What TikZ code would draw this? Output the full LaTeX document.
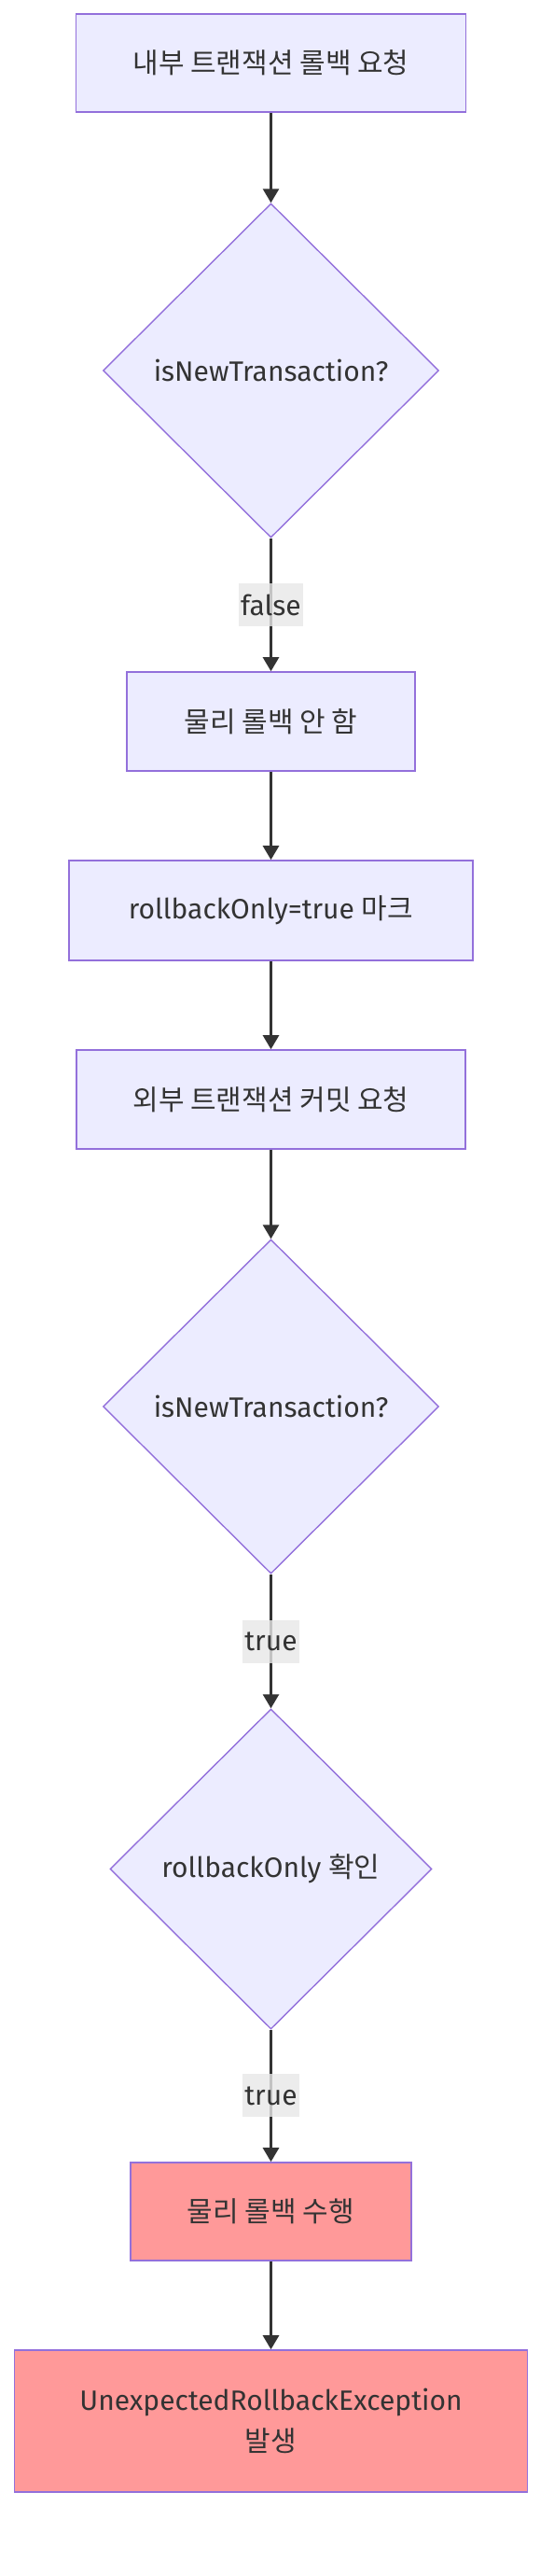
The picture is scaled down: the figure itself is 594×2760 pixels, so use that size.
\documentclass[tikz,border=0pt]{standalone}
\usepackage{fontspec}
\setmainfont{Fira Sans}
\newfontfamily\kr{Noto Sans CJK KR}
\usetikzlibrary{arrows.meta,shapes.geometric}
\definecolor{boxfill}{HTML}{ECECFF}
\definecolor{boxline}{HTML}{9370DB}
\definecolor{redfill}{HTML}{FF9999}
\definecolor{ink}{HTML}{333333}
\definecolor{lblbg}{HTML}{E8E8E8}
\newcommand\dgtxt{\fontsize{30}{44}\selectfont}
\begin{document}
\begin{tikzpicture}[x=1pt,y=-1pt,
  proc/.style={draw=boxline, line width=1.6pt, fill=boxfill, rectangle, inner sep=0pt, text=ink, font=\dgtxt, align=center},
  hot/.style={proc, fill=redfill},
  decide/.style={draw=boxline, line width=1.4pt, fill=boxfill, diamond, aspect=1, inner sep=0pt, text=ink, font=\dgtxt},
  edge/.style={draw=ink, line width=2.6pt, -{Triangle[width=17pt,length=15pt]}},
  elabel/.style={fill=lblbg, fill opacity=0.8, text opacity=1, text=ink, font=\dgtxt, inner xsep=2pt, inner ysep=0pt, minimum height=46pt}]
\useasboundingbox (0,0) rectangle (594,2760);
\fill[white] (0,0) rectangle (594,2760);
\node[proc, minimum width=418pt, minimum height=105pt] (b1) at (290.5,67.5) {{\kr 내부 트랜잭션 롤백 요청}};
\node[decide, minimum width=360pt, minimum height=358pt] (d1) at (290.5,397) {isNewTransaction?};
\node[proc, minimum width=309pt, minimum height=106pt] (b2) at (290.5,773) {{\kr 물리 롤백 안 함}};
\node[proc, minimum width=433pt, minimum height=107pt] (b3) at (290.5,975.5) {rollbackOnly=true {\kr 마크}};
\node[proc, minimum width=417pt, minimum height=106pt] (b4) at (290.5,1178) {{\kr 외부 트랜잭션 커밋 요청}};
\node[decide, minimum width=360pt, minimum height=358pt] (d2) at (290.5,1507) {isNewTransaction?};
\node[decide, minimum width=345pt, minimum height=343pt] (d3) at (290.5,2002.5) {rollbackOnly {\kr 확인}};
\node[hot, minimum width=301pt, minimum height=105pt] (b5) at (290.5,2369.5) {{\kr 물리 롤백 수행}};
\node[hot, minimum width=550pt, minimum height=152pt] (b6) at (290.5,2594) {UnexpectedRollbackException\\{\kr 발생}};
\draw[edge] (b1.south) -- (d1.north);
\draw[edge] (d1.south) -- node[elabel] (l1) {false} (b2.north);
\draw[edge] (b2.south) -- (b3.north);
\draw[edge] (b3.south) -- (b4.north);
\draw[edge] (b4.south) -- (d2.north);
\draw[edge] (d2.south) -- node[elabel] (l2) {true} (d3.north);
\draw[edge] (d3.south) -- node[elabel] (l3) {true} (b5.north);
\draw[edge] (b5.south) -- (b6.north);
\end{tikzpicture}
\end{document}
